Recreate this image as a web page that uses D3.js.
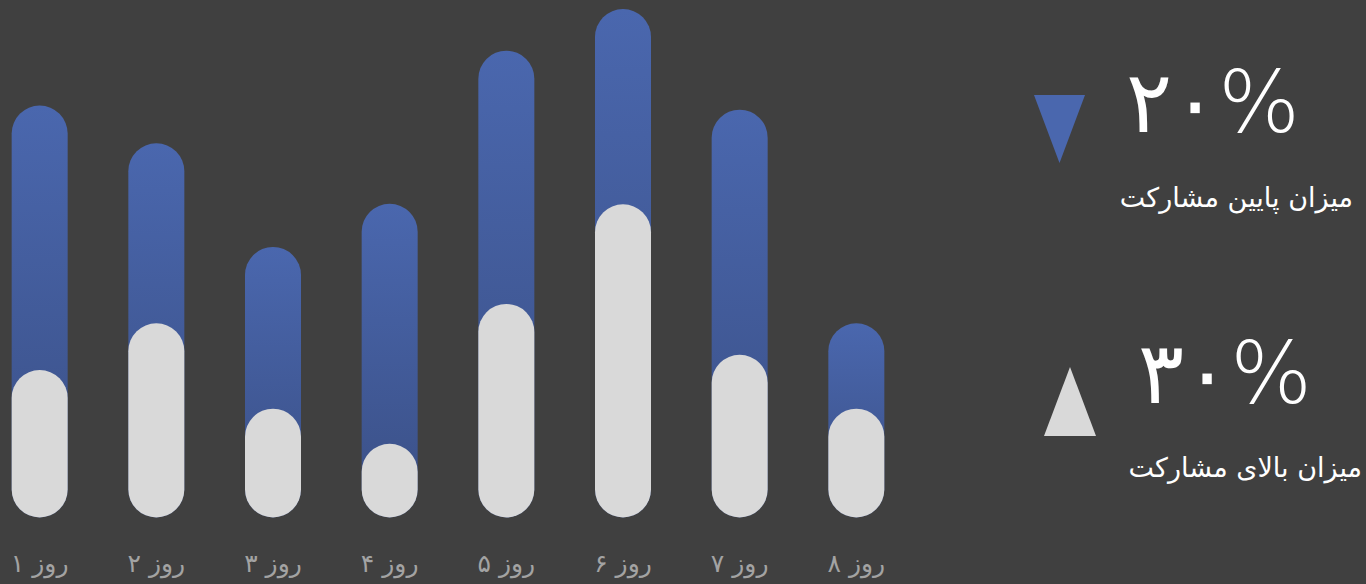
<!DOCTYPE html>
<html>
<head>
<meta charset="utf-8">
<script src="https://cdn.jsdelivr.net/npm/d3@7"></script>
<style>
  html, body { margin: 0; padding: 0; background: #404040; }
  svg { display: block; }
</style>
</head>
<body>
<svg id="chart" width="1366" height="584"></svg>
<script>
// ---- data ----
const days = ["روز ۱", "روز ۲", "روز ۳", "روز ۴", "روز ۵", "روز ۶", "روز ۷", "روز ۸"];
const lowValues  = [81, 73.6, 53.2, 61.7, 91.8, 100, 80.2, 38.2];   // blue (back) bars
const highValues = [29, 38.2, 21.4, 14.5, 42, 61.6, 32, 21.4];      // light grey (front) bars
const legendValues = ["۲۰%", "۳۰%"];
const legendLabels = ["میزان پایین مشارکت", "میزان بالای مشارکت"];

const W = 1366, H = 584;
const svg = d3.select("#chart");

const defs = svg.append("defs");
const grad = defs.append("linearGradient")
  .attr("id", "blueGrad").attr("x1", 0).attr("y1", 0).attr("x2", 0).attr("y2", 1);
grad.append("stop").attr("offset", "0%").attr("stop-color", "#4a67ae");
grad.append("stop").attr("offset", "100%").attr("stop-color", "#3a4f85");

const x = d3.scaleBand().domain(days).range([0, 896]).paddingInner(0.52).paddingOuter(0.1);
const y = d3.scaleLinear().domain([0, 100]).range([517.5, 9]);

const bw = x.bandwidth();

svg.append("g").selectAll("rect")
  .data(days)
  .join("rect")
  .attr("x", d => x(d))
  .attr("width", bw)
  .attr("y", (d, i) => y(lowValues[i]))
  .attr("height", (d, i) => y(0) - y(lowValues[i]))
  .attr("rx", bw / 2).attr("ry", bw / 2)
  .attr("fill", "url(#blueGrad)");

svg.append("g").selectAll("rect")
  .data(days)
  .join("rect")
  .attr("x", d => x(d))
  .attr("width", bw)
  .attr("y", (d, i) => y(highValues[i]))
  .attr("height", (d, i) => y(0) - y(highValues[i]))
  .attr("rx", bw / 2).attr("ry", bw / 2)
  .attr("fill", "#d9d9d9");

// x axis labels
const xAxis = d3.axisBottom(x).tickSize(0).tickPadding(0);
const gx = svg.append("g").attr("transform", "translate(0,572)").call(xAxis);
gx.select(".domain").remove();
gx.selectAll("text")
  .attr("fill", "#a3a3a3")
  .attr("font-family", "'DejaVu Sans', sans-serif")
  .attr("font-size", 25)
  .attr("direction", "rtl")
  .attr("text-anchor", "middle")
  .attr("y", 0)
  .attr("dy", 0);

// legend
svg.append("path")
  .attr("d", `M1034,95 L1085,95 L1059.5,163 Z`)
  .attr("fill", "#4a67ae");
svg.append("path")
  .attr("d", `M1044,436 L1096,436 L1070,367 Z`)
  .attr("fill", "#d9d9d9");

const legendY = [[132, 207], [403, 477]];
const legendBigX = [1213, 1225];
const legendLabelX = [1353, 1362];

legendValues.forEach((v, i) => {
  svg.append("text")
    .attr("x", legendBigX[i]).attr("y", legendY[i][0])
    .attr("text-anchor", "middle")
    .attr("fill", "#ffffff")
    .attr("font-family", "'DejaVu Sans', sans-serif")
    .attr("font-weight", 200)
    .attr("font-size", 86)
    .text(v);
  svg.append("text")
    .attr("x", legendLabelX[i]).attr("y", legendY[i][1])
    .attr("text-anchor", "start")
    .attr("direction", "rtl")
    .attr("fill", "#ffffff")
    .attr("font-family", "'DejaVu Sans', sans-serif")
    .attr("font-size", 27)
    .text(legendLabels[i]);
});
</script>
</body>
</html>
